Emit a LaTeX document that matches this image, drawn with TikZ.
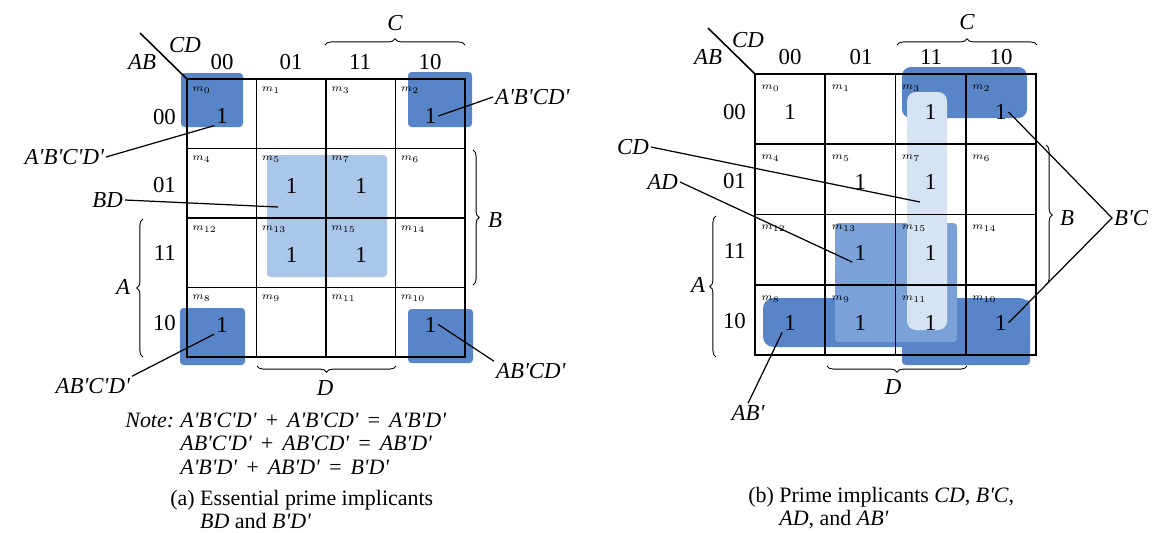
\documentclass[tikz,border=0pt]{standalone}
\usepackage{fontspec}
\setmainfont{Liberation Serif}
\usetikzlibrary{positioning,calc,decorations.pathreplacing}

\definecolor{kdark}{RGB}{88,132,200}
\definecolor{kmid}{RGB}{122,162,216}
\definecolor{klight}{RGB}{170,198,232}
\definecolor{kpale}{RGB}{214,227,244}
\newcommand{\prm}{\textquotesingle}
\newcommand{\kop}[1]{\hspace{4.5pt}#1\hspace{4.5pt}}

\begin{document}
\begin{tikzpicture}[x=0.02cm,y=-0.02cm,
  cell/.style={line width=1.1pt},
  lead/.style={line width=0.7pt},
  brc/.style={decorate,decoration={brace,amplitude=3.5pt},line width=0.5pt},
  txt/.style={font=\fontsize{13}{15}\selectfont,inner sep=1pt},
  itx/.style={font=\fontsize{13}{15}\selectfont\itshape,inner sep=1pt},
  mlab/.style={font=\fontsize{6.5}{7}\selectfont,anchor=west,inner sep=0pt},
  grp/.style={rounded corners=2pt}]
\useasboundingbox (0,0) rectangle (1157,532);

% ---------------- (a) essential prime implicants ----------------
% groups first, grid drawn over them
\fill[grp,kdark] (181,73) rectangle (243,127);
\fill[grp,kdark] (408,72) rectangle (472,127);
\fill[grp,kdark] (180,308) rectangle (245,365);
\fill[grp,kdark] (408,309) rectangle (473,363);
\fill[grp,klight] (267,155) rectangle (387,277);
\begin{scope}[shift={(187,79)}]
\draw[cell] (0,0) rectangle (278,278);
\foreach \k in {1,2,3} {\draw[cell] (\k*69.5,0) -- (\k*69.5,278); \draw[cell] (0,\k*69.5) -- (278,\k*69.5);}
% minterm numbers, rows/cols in Gray order
\foreach \r [count=\i from 0] in {0,1,3,2}
  \foreach \c [count=\j from 0] in {0,1,3,2} {
    \pgfmathtruncatemacro{\m}{4*\r+\c}
    \node[mlab] (a-m\m) at (\j*69.5+5,\i*69.5+11) {$m_{\m}$};
  }
\foreach \i/\j in {0/0,0/3,1/1,1/2,2/1,2/2,3/0,3/3} \node[txt] (a-one\i\j) at (\j*69.5+35,\i*69.5+37) {1};
\end{scope}
\coordinate (a-dg) at (140,33);
\draw[line width=0.9pt] (a-dg) -- (187,79);
\node[itx] (a-AB) at (142,62) {AB};
\node[itx] (a-CD) at (185,45) {CD};
\foreach \xx/\lab in {222/00,291/01,360/11,430/10} \node[txt] (a-c\lab) at (\xx,62) {\lab};
\foreach \yy/\lab in {117/00,185/01,253/11,323/10} \node[txt,anchor=east] (a-r\lab) at (178,\yy) {\lab};
% braces
\draw[brc] (325,45) -- (465,45);
\node[itx] (a-C) at (395,23) {C};
\draw[brc] (473,150) -- (473,285);
\node[itx] (a-B) at (495,220) {B};
\draw[brc] (143,357) -- (143,219);
\node[itx] (a-A) at (123,287) {A};
\draw[brc] (396,366) -- (257,366);
\node[itx] (a-D) at (325,388) {D};
% implicant labels
\node[itx,anchor=west] (a-l2) at (493,97) {A\prm B\prm CD\prm};
\draw[lead] (a-l2.west) -- (a-one03.east);
\node[itx,anchor=east] (a-l0) at (106,157) {A\prm B\prm C\prm D\prm};
\draw[lead] (a-l0.east) -- (a-one00.south west);
\node[itx,anchor=east] (a-lBD) at (125,200) {BD};
\coordinate (a-pBD) at (278,207);
\draw[lead] (a-lBD.east) -- (a-pBD);
\node[itx,anchor=east] (a-l8) at (132,386) {AB\prm C\prm D\prm};
\draw[lead] (a-l8.north east) -- (a-one30.south west);
\node[itx,anchor=west] (a-l10) at (494,371) {AB\prm CD\prm};
\draw[lead] (a-l10.north west) -- (a-one33.east);
% note and caption
\node[itx,anchor=base west,inner sep=0pt,font=\fontsize{12.5}{13.6}\selectfont\itshape] (a-note) at (125,427)
  {\begin{tabular}[t]{@{}p{1.1cm}@{}l@{}}
   Note: & A\prm B\prm C\prm D\prm\kop{+}A\prm B\prm CD\prm\kop{=}A\prm B\prm D\prm\\
         & AB\prm C\prm D\prm\kop{+}AB\prm CD\prm\kop{=}AB\prm D\prm\\
         & A\prm B\prm D\prm\kop{+}AB\prm D\prm\kop{=}B\prm D\prm
   \end{tabular}};
\node[txt,anchor=base west,inner sep=0pt,font=\fontsize{12.5}{13.4}\selectfont] (a-cap) at (170,505)
  {\begin{tabular}[t]{@{}l@{\ }l@{}}
   (a) & Essential prime implicants\\
       & \textit{BD} and \textit{B\prm D\prm}
   \end{tabular}};

% ---------------- (b) prime implicants ----------------
\fill[grp,rounded corners=6pt,kdark] (763,298) rectangle (1030,347);
\fill[grp,rounded corners=5pt,kdark] (902,67) rectangle (1027,118);
\fill[grp,kdark] (902,300) rectangle (1030,365);
\fill[grp,kmid] (835,223) rectangle (957,342);
\fill[grp,rounded corners=5pt,kpale] (907,92) rectangle (947,330);
\begin{scope}[shift={(755,74)}]
\draw[cell] (0,0) rectangle (281,281);
\foreach \k in {1,2,3} {\draw[cell] (\k*70.25,0) -- (\k*70.25,281); \draw[cell] (0,\k*70.25) -- (281,\k*70.25);}
\foreach \r [count=\i from 0] in {0,1,3,2}
  \foreach \c [count=\j from 0] in {0,1,3,2} {
    \pgfmathtruncatemacro{\m}{4*\r+\c}
    \node[mlab] (b-m\m) at (\j*70.25+6,\i*70.25+14) {$m_{\m}$};
  }
\foreach \i/\j in {0/0,0/2,0/3,1/1,1/2,2/1,2/2,3/0,3/1,3/2,3/3} \node[txt] (b-one\i\j) at (\j*70.25+35,\i*70.25+38) {1};
\end{scope}
\coordinate (b-dg) at (708,28);
\draw[line width=0.9pt] (b-dg) -- (755,74);
\node[itx] (b-AB) at (708,57) {AB};
\node[itx] (b-CD) at (748,40) {CD};
\foreach \xx/\lab in {790/00,861/01,931/11,1001/10} \node[txt] (b-c\lab) at (\xx,57) {\lab};
\foreach \yy/\lab in {112/00,181/01,251/11,321/10} \node[txt,anchor=east] (b-r\lab) at (748,\yy) {\lab};
% braces
\draw[brc] (897,45) -- (1037,45);
\node[itx] (b-C) at (967,22) {C};
\draw[brc] (1046,145) -- (1046,285);
\node[itx] (b-B) at (1067,218) {B};
\draw[brc] (716,357) -- (716,216);
\node[itx] (b-A) at (698,285) {A};
\draw[brc] (967,366) -- (827,366);
\node[itx] (b-D) at (893,387) {D};
% implicant labels
\node[itx,anchor=east] (b-lCD) at (651,147) {CD};
\coordinate (b-pCD) at (920,202);
\draw[lead] (b-lCD.east) -- (b-pCD);
\node[itx,anchor=east] (b-lAD) at (680,182) {AD};
\draw[lead] (b-lAD.east) -- (b-one21.south west);
\node[itx] (b-lAB) at (748,413) {AB\prm};
\draw[lead] (b-lAB.north) -- (b-one30.south west);
\node[itx,anchor=west] (b-lBC) at (1112,218) {B\prm C};
\draw[lead] (b-one03.east) -- (b-lBC.west) -- (b-one33.east);
% caption
\node[txt,anchor=base west,inner sep=0pt,font=\fontsize{12.5}{13.4}\selectfont] (b-cap) at (748,502)
  {\begin{tabular}[t]{@{}l@{\ }l@{}}
   (b) & Prime implicants \textit{CD}, \textit{B\prm C},\\
       & \textit{AD}, and \textit{AB\prm}
   \end{tabular}};
\end{tikzpicture}
\end{document}
